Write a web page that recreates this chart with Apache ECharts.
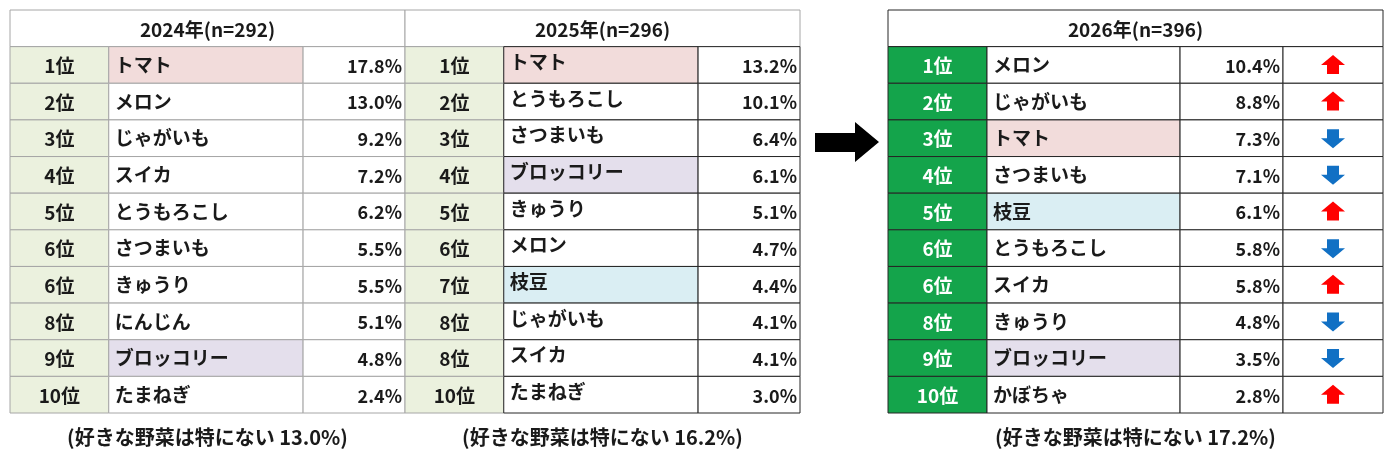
<!DOCTYPE html>
<html>
<head>
<meta charset="utf-8">
<script src="https://cdn.jsdelivr.net/npm/echarts@6/dist/echarts.min.js"></script>
<style>
  html, body { margin: 0; background: #fff; }
  #chart { width: 1390px; height: 453px; }
</style>
</head>
<body>
<div id="chart"></div>
<script>
// Favourite vegetable ranking, three survey years side by side.

const TITLES = ['2024年(n=292)', '2025年(n=296)', '2026年(n=396)'];

const RANKS_2024 = [1, 2, 3, 4, 5, 6, 6, 8, 9, 10];
const ITEMS_2024 = ['トマト', 'メロン', 'じゃがいも', 'スイカ', 'とうもろこし', 'さつまいも', 'きゅうり', 'にんじん', 'ブロッコリー', 'たまねぎ'];
const VALUES_2024 = [17.8, 13.0, 9.2, 7.2, 6.2, 5.5, 5.5, 5.1, 4.8, 2.4];

const RANKS_2025 = [1, 2, 3, 4, 5, 6, 7, 8, 8, 10];
const ITEMS_2025 = ['トマト', 'とうもろこし', 'さつまいも', 'ブロッコリー', 'きゅうり', 'メロン', '枝豆', 'じゃがいも', 'スイカ', 'たまねぎ'];
const VALUES_2025 = [13.2, 10.1, 6.4, 6.1, 5.1, 4.7, 4.4, 4.1, 4.1, 3.0];

const RANKS_2026 = [1, 2, 3, 4, 5, 6, 6, 8, 9, 10];
const ITEMS_2026 = ['メロン', 'じゃがいも', 'トマト', 'さつまいも', '枝豆', 'とうもろこし', 'スイカ', 'きゅうり', 'ブロッコリー', 'かぼちゃ'];
const VALUES_2026 = [10.4, 8.8, 7.3, 7.1, 6.1, 5.8, 5.8, 4.8, 3.5, 2.8];
const TREND_2026 = ['up', 'up', 'down', 'down', 'up', 'down', 'up', 'down', 'down', 'up'];

const NO_FAVOURITE = [13.0, 16.2, 17.2];

// styles
const FONT = '"Noto Sans CJK JP", "Noto Sans", sans-serif';
const INK = '#1a1a1a';
const GREY_LINE = '#a6a6a6';
const DARK_LINE = '#262626';
const RANK_PALE = '#ebf1de';
const RANK_GREEN = '#14a44b';
const UP = '#ff0000';
const DOWN = '#1170c4';
const HILITE = { 'トマト': '#f2dcdb', 'ブロッコリー': '#e4dfec', '枝豆': '#daeef3' };

const TABLES = [
  { ranks: RANKS_2024, items: ITEMS_2024, values: VALUES_2024, cols: [0, 0.25, 0.742, 1],
    rankFill: RANK_PALE, rankInk: INK, rankLine: GREY_LINE, bodyLine: GREY_LINE },
  { ranks: RANKS_2025, items: ITEMS_2025, values: VALUES_2025, cols: [0, 0.25, 0.742, 1],
    rankFill: RANK_PALE, rankInk: INK, rankLine: GREY_LINE, bodyLine: DARK_LINE, nameLift: 3 },
  { ranks: RANKS_2026, items: ITEMS_2026, values: VALUES_2026, trend: TREND_2026, cols: [0, 0.2, 0.59, 0.798, 1],
    rankFill: RANK_GREEN, rankInk: '#ffffff', rankLine: DARK_LINE, bodyLine: DARK_LINE, headLine: DARK_LINE },
];

const GRIDS = [
  { left: 10, top: 10, width: 395, height: 403 },
  { left: 405, top: 10, width: 395, height: 403 },
  { left: 888, top: 10, width: 495, height: 403 },
];

function cell(x0, y0, x1, y1, fill, stroke) {
  return { type: 'rect', shape: { x: x0, y: y0, width: x1 - x0, height: y1 - y0 },
           style: { fill, stroke, lineWidth: 1 } };
}
function label(x, y, text, size, color, align) {
  return { type: 'text', x, y,
           style: { text, fill: color, font: `bold ${size}px ${FONT}`, align, verticalAlign: 'middle' } };
}
function arrow(cx, cy, dir) {
  const s = dir === 'up' ? 1 : -1;
  const pts = [[-12, 0], [0, -10], [12, 0], [6, 0], [6, 9], [-6, 9], [-6, 0]]
    .map(([dx, dy]) => [cx + dx, cy + s * dy]);
  return { type: 'polygon', shape: { points: pts }, style: { fill: dir === 'up' ? UP : DOWN } };
}

function renderTable(t, ti) {
  return function (params, api) {
    const r = params.dataIndex;
    const y0 = api.coord([0, r])[1], y1 = api.coord([0, r + 1])[1];
    const xs = t.cols.map(c => api.coord([c, 0])[0]);
    const ym = (y0 + y1) / 2;
    const kids = [];
    if (r === 0) {
      kids.push(cell(xs[0], y0, xs[xs.length - 1], y1, '#ffffff', t.headLine || GREY_LINE));
      kids.push(label((xs[0] + xs[xs.length - 1]) / 2, ym + 1, TITLES[ti], 19, INK, 'center'));
      return { type: 'group', children: kids };
    }
    const i = r - 1;
    const name = t.items[i];
    kids.push(cell(xs[0], y0, xs[1], y1, t.rankFill, t.rankLine));
    kids.push(cell(xs[1], y0, xs[2], y1, HILITE[name] || '#ffffff', t.bodyLine));
    kids.push(cell(xs[2], y0, xs[3], y1, '#ffffff', t.bodyLine));
    kids.push(label((xs[0] + xs[1]) / 2, ym + 1, t.ranks[i] + '位', 19, t.rankInk, 'center'));
    kids.push(label(xs[1] + 6, ym - (t.nameLift || 0), name, 19, INK, 'left'));
    kids.push(label(xs[3] - 3, ym + 1, t.values[i].toFixed(1) + '%', 18, INK, 'right'));
    if (t.trend) {
      kids.push(cell(xs[3], y0, xs[4], y1, '#ffffff', t.bodyLine));
      kids.push(arrow((xs[3] + xs[4]) / 2, ym, t.trend[i]));
    }
    return { type: 'group', children: kids };
  };
}

const chart = echarts.init(document.getElementById('chart'), null, { renderer: 'canvas' });

const rows = Array.from({ length: 11 }, (_, r) => [0.5, r + 0.5]);

chart.setOption({
  animation: false,
  grid: GRIDS,
  xAxis: GRIDS.map((_, g) => ({ gridIndex: g, type: 'value', min: 0, max: 1, show: false })),
  yAxis: GRIDS.map((_, g) => ({ gridIndex: g, type: 'value', min: 0, max: 11, inverse: true, show: false })),
  series: TABLES.map((t, ti) => ({
    type: 'custom',
    xAxisIndex: ti, yAxisIndex: ti,
    data: rows,
    clip: false,
    renderItem: renderTable(t, ti),
  })),
  graphic: [
    { type: 'polygon', shape: { points: [[815, 133], [855, 133], [855, 122], [879, 142], [855, 162], [855, 152], [815, 152]] },
      style: { fill: '#000' } },
    ...NO_FAVOURITE.map((v, k) => ({
      type: 'text',
      x: GRIDS[k].left + GRIDS[k].width / 2, y: 437,
      style: { text: `(好きな野菜は特にない ${v.toFixed(1)}%)`, font: `bold 20px ${FONT}`, fill: INK,
               align: 'center', verticalAlign: 'middle' },
    })),
  ],
});
</script>
</body>
</html>
